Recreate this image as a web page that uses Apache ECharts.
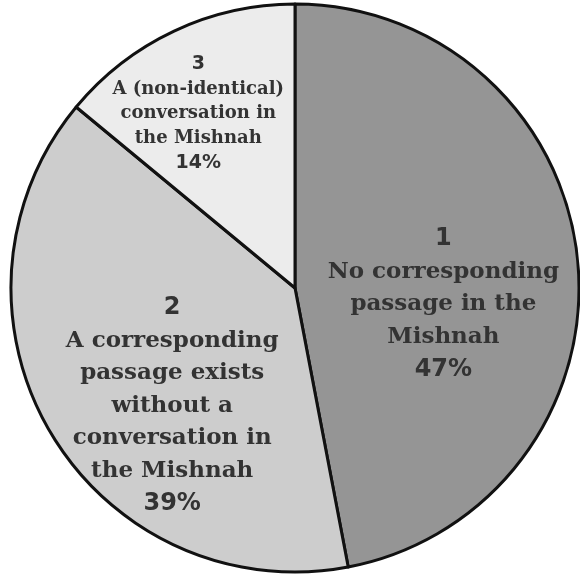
<!DOCTYPE html>
<html>

<head>
    <meta charset="utf-8">
    <title>Mishnah pie</title>
    <script src="https://cdn.jsdelivr.net/npm/echarts@6/dist/echarts.min.js"></script>
    <style>
        html, body { margin: 0; padding: 0; background: #fff; }
    </style>
</head>

<body>
    <div id="main" style="width: 580px;height:576px;"></div>
    <script type="text/javascript">
        var myChart = echarts.init(document.getElementById('main'));

        // slice data, clockwise from 12 o'clock
        var numbers = ['1', '2', '3'];
        var names = [
            'No corresponding\npassage in the\nMishnah',
            'A corresponding\npassage exists\nwithout a\nconversation in\nthe Mishnah',
            'A (non-identical)\nconversation in\nthe Mishnah'
        ];
        var values = [47, 39, 14];
        var colors = ['#959595', '#cdcdcd', '#ececec'];

        // label nudges (dx, dy) from the default inside spot
        var nudges = [[4, 30], [2, 44], [-35, -43]];

        var data = values.map(function (v, i) {
            var small = i === 2;
            return {
                value: v,
                name: names[i],
                itemStyle: { color: colors[i] },
                label: {
                    formatter: small
                        ? '{ns|' + numbers[i] + '}\n{ts|' + names[i] + '}\n{ns|' + v + '%}'
                        : '{n|' + numbers[i] + '}\n{t|' + names[i] + '}\n{n|' + v + '%}'
                }
            };
        });

        myChart.setOption({
            animation: false,
            backgroundColor: '#fff',
            series: [{
                type: 'pie',
                center: [295, 288],
                radius: 284,
                startAngle: 90,
                clockwise: true,
                silent: true,
                data: data,
                itemStyle: {
                    borderColor: '#111',
                    borderWidth: 3
                },
                label: {
                    show: true,
                    position: 'inside',
                    color: '#333',
                    align: 'center',
                    rich: {
                        n: {
                            fontFamily: 'DejaVu Sans',
                            fontWeight: 'bold',
                            fontSize: 24,
                            lineHeight: 33,
                            color: '#333',
                            align: 'center'
                        },
                        t: {
                            fontFamily: 'DejaVu Serif',
                            fontWeight: 'bold',
                            fontSize: 23,
                            lineHeight: 32.5,
                            color: '#333',
                            align: 'center'
                        },
                        ns: {
                            fontFamily: 'DejaVu Sans',
                            fontWeight: 'bold',
                            fontSize: 19,
                            lineHeight: 26,
                            color: '#333',
                            align: 'center'
                        },
                        ts: {
                            fontFamily: 'DejaVu Serif',
                            fontWeight: 'bold',
                            fontSize: 18,
                            lineHeight: 24.5,
                            color: '#333',
                            align: 'center'
                        }
                    }
                },
                labelLine: { show: false },
                labelLayout: function (params) {
                    var d = nudges[params.dataIndex];
                    return { dx: d[0], dy: d[1] };
                }
            }]
        });
    </script>
</body>

</html>
